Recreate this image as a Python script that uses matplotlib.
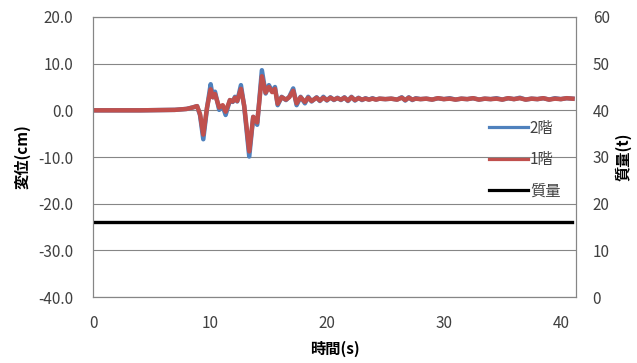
import matplotlib.pyplot as plt
from matplotlib.lines import Line2D

plt.rcParams['font.family'] = ['Noto Sans CJK JP', 'DejaVu Sans']

# time (s) and displacement (cm)
t_disp = [0, 4, 7, 8.0, 8.5, 8.9, 9.15, 9.43, 9.75, 10.06, 10.25, 10.43, 10.79, 11.09, 11.34,
          11.71, 11.95, 12.14, 12.33, 12.65, 12.93, 13.36, 13.70, 14.04, 14.44, 14.76, 15.04,
          15.32, 15.56, 15.79, 16.13, 16.50, 16.78, 17.12, 17.41, 17.75, 18.12, 18.40, 18.69,
          19.12, 19.4, 19.7, 20.0, 20.3, 20.6, 20.9, 21.2, 21.5, 21.8, 22.1, 22.4, 22.7, 23.0,
          23.3, 23.6, 23.9, 24.2, 24.5, 25.0, 25.5, 26.0, 26.4, 26.7, 27.0, 27.3, 27.6, 28.0,
          28.5, 29.0, 29.5, 30.0, 30.5, 31.0, 31.5, 32.0, 32.5, 33.0, 33.5, 34.0, 34.5, 35.0,
          35.5, 36.0, 36.5, 37.0, 37.5, 38.0, 38.5, 39.0, 39.5, 40.0, 40.5, 41.0]

floor2 = [0, 0, 0.1, 0.3, 0.6, 0.9, -1.0, -6.2, 0.5, 5.6, 2.8, 4.0, 0.1, 0.9, -1.0,
          2.2, 1.8, 2.9, 1.9, 5.4, 0.8, -9.9, -1.4, -3.1, 8.6, 3.6, 5.4,
          4.0, 5.0, 1.1, 2.9, 2.2, 2.9, 4.7, 1.1, 2.9, 1.5, 2.9, 1.9,
          2.8, 2.0, 2.9, 2.1, 2.8, 2.2, 2.7, 2.2, 2.8, 2.0, 2.9, 2.1, 2.7, 2.2,
          2.6, 2.3, 2.6, 2.3, 2.5, 2.4, 2.5, 2.3, 2.8, 2.1, 2.8, 2.2, 2.6, 2.4,
          2.5, 2.3, 2.6, 2.4, 2.6, 2.3, 2.5, 2.4, 2.6, 2.3, 2.5, 2.4, 2.6, 2.3,
          2.6, 2.4, 2.7, 2.3, 2.5, 2.4, 2.6, 2.3, 2.6, 2.4, 2.6, 2.5]

floor1 = [0, 0, 0.1, 0.3, 0.6, 0.9, -0.8, -5.2, 0.6, 4.5, 2.8, 3.5, 0.6, 1.1, -0.3,
          2.2, 1.9, 2.7, 2.0, 4.6, 1.0, -8.8, -1.4, -2.6, 7.3, 3.8, 5.0,
          3.9, 4.6, 1.4, 2.8, 2.3, 2.8, 4.2, 1.5, 2.8, 1.8, 2.7, 2.0,
          2.7, 2.1, 2.7, 2.2, 2.7, 2.3, 2.6, 2.3, 2.7, 2.1, 2.8, 2.2, 2.6, 2.3,
          2.5, 2.3, 2.5, 2.3, 2.5, 2.4, 2.5, 2.3, 2.7, 2.2, 2.7, 2.3, 2.5, 2.4,
          2.5, 2.3, 2.6, 2.4, 2.5, 2.3, 2.5, 2.4, 2.6, 2.3, 2.5, 2.4, 2.5, 2.3,
          2.6, 2.4, 2.6, 2.3, 2.5, 2.4, 2.6, 2.3, 2.5, 2.4, 2.6, 2.5]

# mass (t)
t_mass = [0, 41.0]
mass = [16, 16]

grid_c = '#868686'
txt_c = '#404040'
c2, c1 = '#4F81BD', '#C0504D'

fig = plt.figure(figsize=(6.37, 3.63), dpi=100)
ax = fig.add_axes([93/637, 66/363, (576-93)/637, (297-17)/363])
ax2 = ax.twinx()

ax.plot(t_disp, floor2, color=c2, linewidth=3.2, zorder=3)
ax.plot(t_disp, floor1, color=c1, linewidth=3.2, zorder=4)
ax2.plot(t_mass, mass, color='black', linewidth=2.4)

ax.set_xlim(0, 41.3)
ax.set_ylim(-40, 20)
ax.set_yticks(range(-40, 21, 10))
ax.set_yticklabels(['%.1f' % v for v in range(-40, 21, 10)])
ax.set_xticks(range(0, 41, 10))
ax2.set_ylim(0, 60)
ax2.set_yticks(range(0, 61, 10))

ax.grid(axis='y', color=grid_c, linewidth=0.8)
ax.set_axisbelow(True)
for a in (ax, ax2):
    for s in a.spines.values():
        s.set_color(grid_c)
        s.set_linewidth(0.8)
    a.tick_params(length=0, labelsize=11, labelcolor=txt_c)
ax.tick_params(axis='y', pad=14)
ax2.tick_params(axis='y', pad=12)
ax.tick_params(axis='x', pad=13)

ax.set_xlabel('時間(s)', fontsize=11, fontweight='bold', labelpad=6)
ax.set_ylabel('変位(cm)', fontsize=11, fontweight='bold', labelpad=6)
ax2.set_ylabel('質量(t)', fontsize=11, fontweight='bold', labelpad=4)

handles = [Line2D([], [], color=c2, linewidth=2.3),
           Line2D([], [], color=c1, linewidth=2.3),
           Line2D([], [], color='black', linewidth=2.3)]
fig.legend(handles=handles, labels=['2階', '1階', '質量'], loc='upper left',
           bbox_to_anchor=(481/637, 1 - 112/363),
           frameon=False, fontsize=11, handlelength=2.6, handletextpad=0.1,
           labelspacing=0.95, borderpad=0, labelcolor=txt_c)

fig.savefig('out.png', dpi=100)
